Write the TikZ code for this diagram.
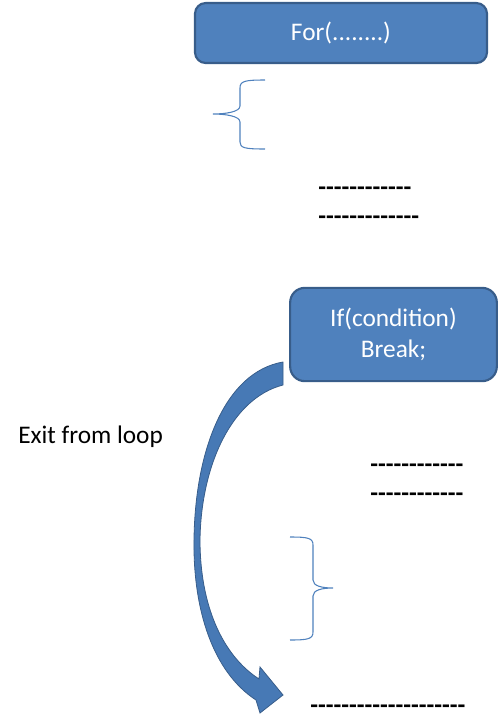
\documentclass[tikz,border=0pt]{standalone}
\usepackage{fontspec}
\setmainfont{Carlito}
\definecolor{boxfill}{HTML}{4F81BD}
\definecolor{boxline}{HTML}{385D8A}
\definecolor{arrfill}{HTML}{4779B5}
\newcommand\hyrow[1]{\foreach \i in {1,...,#1}{-}}
\tikzset{
  blkbox/.style={draw=boxline, line width=1.6pt, fill=boxfill, text=white, align=center,
    font=\fontsize{19}{23.25}\selectfont, inner sep=0pt},
  txt/.style={anchor=west, inner sep=0pt, font=\fontsize{19}{23.25}\selectfont},
  dsh/.style={anchor=west, inner sep=0pt, font=\fontsize{19}{23.25}\selectfont\bfseries},
  brc/.style={draw=boxfill, line width=0.8pt}
}
\begin{document}
\begin{tikzpicture}[x=0.75pt,y=-0.75pt]
\useasboundingbox (0,0) rectangle (500,726);
\node[blkbox, rounded corners=8pt, minimum width=219pt, minimum height=45pt] (forb) at (341,33) {For(........)};
\node[blkbox, rounded corners=11pt, minimum width=155pt, minimum height=70pt] (ifb) at (393.5,334.5) {If(condition)\\Break;};
% left brace
\draw[brc] (265,80) .. controls (245,80) and (240,81) .. (240,88) -- (240,106) .. controls (240,112) and (225,114) .. (213,114)
  (213,114) .. controls (225,114) and (240,116) .. (240,122) -- (240,142) .. controls (240,148) and (245,149) .. (265,149);
% dashes
\node[dsh] (d1) at (318,191) {\hyrow{12}};
\node[dsh] (d2) at (318,220) {\hyrow{13}};
\node[dsh] (d3) at (370,468) {\hyrow{12}};
\node[dsh] (d4) at (370,497) {\hyrow{12}};
\node[dsh] (d5) at (310,709) {\hyrow{20}};
\node[txt] (exit) at (18,437) {Exit from loop};
% right brace
\draw[brc] (290,537) .. controls (308,537) and (313,538) .. (313,545) -- (313,580) .. controls (313,586) and (322,588) .. (333,588)
  (333,588) .. controls (322,588) and (313,590) .. (313,596) -- (313,632) .. controls (313,639) and (308,640) .. (290,640);
% curved arrow
\filldraw[fill=arrfill, draw=boxline, line width=0.6pt]
  (283,362) -- (283,385)
  .. controls (232,398) and (201,465) .. (200,540)
  .. controls (200,605) and (222,655) .. (259,679)
  -- (260,667) -- (283,695) -- (260,713) -- (256,700)
  .. controls (213,672) and (193,610) .. (194,540)
  .. controls (195,450) and (225,372) .. (283,362) -- cycle;
\end{tikzpicture}
\end{document}
